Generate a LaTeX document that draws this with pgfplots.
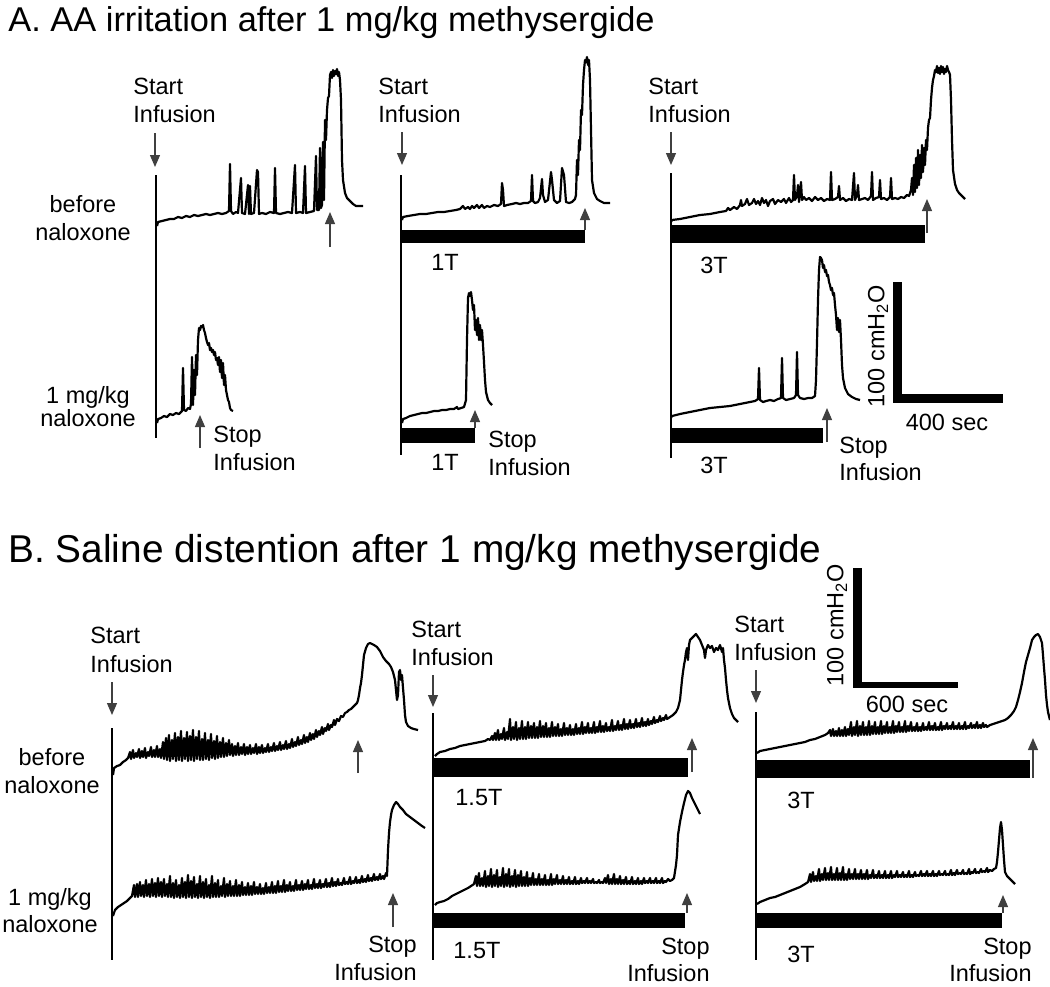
\documentclass[border=0pt]{standalone}
\usepackage{pgfplots}
\pgfplotsset{compat=1.18}
\usepackage{fontspec}
\setmainfont{Liberation Sans}
\usetikzlibrary{arrows.meta}
\tikzset{
  trace/.style={black, line width=1.1pt, line join=round, sharp plot},
  vline/.style={black, line width=1pt},
  bar/.style={fill=black, draw=none},
  arr/.style={black!75, line width=0.6pt, -{Triangle[width=5pt,length=6pt]}},
  lbl/.style={font=\fontsize{11.75}{14}\selectfont, inner sep=0pt},
}
\begin{document}
\begin{tikzpicture}
\begin{axis}[width=525pt, height=493pt, scale only axis,
  xmin=0, xmax=1050, ymin=0, ymax=986, y dir=reverse,
  axis lines=none, clip=false, no markers,
]
% invisible frame
\addplot[draw=none] coordinates {(0,0) (1050,986)};

% ---------------- Titles ----------------
\node[anchor=base west, inner sep=0pt, font=\fontsize{17.2}{20}\selectfont] at (axis cs:8,31) {A. AA irritation after 1 mg/kg methysergide};
\node[anchor=base west, inner sep=0pt, font=\fontsize{19.4}{22}\selectfont] at (axis cs:8,562) {B. Saline distention after 1 mg/kg methysergide};

% ---------------- Panel A labels ----------------
\node[lbl, anchor=base west] at (axis cs:133,94) {Start};
\node[lbl, anchor=base west] at (axis cs:133,122) {Infusion};
\node[lbl, anchor=base west] at (axis cs:378,94) {Start};
\node[lbl, anchor=base west] at (axis cs:378,122) {Infusion};
\node[lbl, anchor=base west] at (axis cs:648,94) {Start};
\node[lbl, anchor=base west] at (axis cs:648,122) {Infusion};
\node[lbl, anchor=base] at (axis cs:83,212) {before};
\node[lbl, anchor=base] at (axis cs:83,240) {naloxone};
\node[lbl, anchor=base] at (axis cs:88,403) {1 mg/kg};
\node[lbl, anchor=base] at (axis cs:88,426) {naloxone};
\node[lbl, anchor=base west] at (axis cs:213,442) {Stop};
\node[lbl, anchor=base west] at (axis cs:213,470) {Infusion};
\node[lbl, anchor=base west] at (axis cs:488,447) {Stop};
\node[lbl, anchor=base west] at (axis cs:488,475) {Infusion};
\node[lbl, anchor=base west] at (axis cs:839,453) {Stop};
\node[lbl, anchor=base west] at (axis cs:839,480) {Infusion};
\node[lbl, anchor=base] at (axis cs:445,270) {1T};
\node[lbl, anchor=base] at (axis cs:445,470) {1T};
\node[lbl, anchor=base] at (axis cs:714,273) {3T};
\node[lbl, anchor=base] at (axis cs:714,473) {3T};
\node[lbl, anchor=base] at (axis cs:947,430) {400 sec};
\node[lbl, rotate=90, anchor=center] at (axis cs:878,346) {100 cmH\textsubscript{2}O};

% ---------------- Panel B labels ----------------
\node[lbl, anchor=base west] at (axis cs:90,643) {Start};
\node[lbl, anchor=base west] at (axis cs:90,672) {Infusion};
\node[lbl, anchor=base west] at (axis cs:411,637) {Start};
\node[lbl, anchor=base west] at (axis cs:411,665) {Infusion};
\node[lbl, anchor=base west] at (axis cs:734,632) {Start};
\node[lbl, anchor=base west] at (axis cs:734,660) {Infusion};
\node[lbl, anchor=base] at (axis cs:52,765) {before};
\node[lbl, anchor=base] at (axis cs:52,793) {naloxone};
\node[lbl, anchor=base] at (axis cs:50,905) {1 mg/kg};
\node[lbl, anchor=base] at (axis cs:50,932) {naloxone};
\node[lbl, anchor=base east] at (axis cs:417,952) {Stop};
\node[lbl, anchor=base east] at (axis cs:417,980) {Infusion};
\node[lbl, anchor=base east] at (axis cs:710,954) {Stop};
\node[lbl, anchor=base east] at (axis cs:710,981) {Infusion};
\node[lbl, anchor=base east] at (axis cs:1032,954) {Stop};
\node[lbl, anchor=base east] at (axis cs:1032,981) {Infusion};
\node[lbl, anchor=base west] at (axis cs:455,805) {1.5T};
\node[lbl, anchor=base west] at (axis cs:453,958) {1.5T};
\node[lbl, anchor=base west] at (axis cs:787,808) {3T};
\node[lbl, anchor=base west] at (axis cs:787,962) {3T};
\node[lbl, anchor=base] at (axis cs:907,712) {600 sec};
\node[lbl, rotate=90, anchor=center] at (axis cs:837,625) {100 cmH\textsubscript{2}O};

% ---------------- vertical lines ----------------
\addplot[vline] coordinates {(156,175) (156,438)};
\addplot[vline] coordinates {(401,175) (401,455)};
\addplot[vline] coordinates {(671,173) (671,458)};
\addplot[vline] coordinates {(112,728) (112,960)};
\addplot[vline] coordinates {(433,713) (433,960)};
\addplot[vline] coordinates {(756,712) (756,960)};

% ---------------- infusion bars ----------------
\addplot[bar] coordinates {(401,230) (585,230) (585,243) (401,243)} -- cycle;
\addplot[bar] coordinates {(401,428) (475,428) (475,443) (401,443)} -- cycle;
\addplot[bar] coordinates {(671,225) (925,225) (925,243) (671,243)} -- cycle;
\addplot[bar] coordinates {(671,428) (823,428) (823,443) (671,443)} -- cycle;
\addplot[bar] coordinates {(433,758) (688,758) (688,777) (433,777)} -- cycle;
\addplot[bar] coordinates {(433,913) (685,913) (685,928) (433,928)} -- cycle;
\addplot[bar] coordinates {(757,760) (1030,760) (1030,778) (757,778)} -- cycle;
\addplot[bar] coordinates {(757,913) (1002,913) (1002,928) (757,928)} -- cycle;

% ---------------- scale bars ----------------
\addplot[bar] coordinates {(893,282) (902,282) (902,403) (893,403)} -- cycle;
\addplot[bar] coordinates {(893,394) (1003,394) (1003,403) (893,403)} -- cycle;
\addplot[bar] coordinates {(853,568) (862,568) (862,688) (853,688)} -- cycle;
\addplot[bar] coordinates {(853,682) (958,682) (958,688) (853,688)} -- cycle;

% ---------------- arrows ----------------
\addplot[arr] coordinates {(155,133) (155,167)};
\addplot[arr] coordinates {(402,132) (402,165)};
\addplot[arr] coordinates {(671,132) (671,165)};
\addplot[arr] coordinates {(112,682) (112,715)};
\addplot[arr] coordinates {(433,675) (433,707)};
\addplot[arr] coordinates {(756,670) (756,703)};
\addplot[arr] coordinates {(330,247) (330,212)};
\addplot[arr] coordinates {(200,448) (200,415)};
\addplot[arr] coordinates {(585,230) (585,208)};
\addplot[arr] coordinates {(475,428) (475,410)};
\addplot[arr] coordinates {(927,233) (927,199)};
\addplot[arr] coordinates {(827,442) (827,408)};
\addplot[arr] coordinates {(358,773) (358,740)};
\addplot[arr] coordinates {(393,927) (393,893)};
\addplot[arr] coordinates {(692,772) (692,738)};
\addplot[arr] coordinates {(687,913) (687,893)};
\addplot[arr] coordinates {(1033,778) (1033,738)};
\addplot[arr] coordinates {(1003,913) (1003,895)};

% ---------------- Panel A traces ----------------
% A1 before naloxone
\addplot[trace] coordinates {
(157,226) (158,222) (162,221) (166,220) (170,219) (174,219) (178,217) (182,218) (186,216) (190,217) (194,215) (198,216) (202,215) (206,214) (210,215) (214,214) (218,213) (222,214) (226,213) (229,211) (230,164) (231,211) (233,214) (236,212) (238,213) (241,178) (242,213) (245,214) (248,185) (249,214) (250,186) (251,214) (254,213) (257,170) (258,172) (259,214) (262,213) (266,214) (270,212) (274,213) (275,168) (276,213) (280,214) (284,213) (288,212) (292,213) (295,165) (296,213) (300,212) (303,213) (305,166) (306,213) (310,212) (314,211) (316,156) (317,210) (319,210) (320,148) (321,208) (322,205) (323,142) (324,200) (325,120) (326,140) (327,110) (328,98) (329,96) (330,75) (331,72) (332,78) (333,70) (334,76) (335,71) (336,74) (337,69) (338,76) (339,72) (340,80) (341,100) (342,160) (343,180) (345,193) (347,198) (350,201) (353,204) (356,206) (359,206) (363,206)
};
% A1 naloxone
\addplot[trace] coordinates {
(157,423) (158,419) (161,418) (164,416) (167,417) (170,414) (173,415) (176,413) (179,414) (182,411) (183,368) (184,410) (186,411) (188,408) (190,409) (191,404) (192,357) (193,405) (194,370) (195,395) (196,355) (197,375) (198,340) (199,328) (200,330) (201,326) (202,327) (203,325) (204,330) (205,333) (206,338) (207,342) (208,345) (209,343) (210,350) (211,348) (212,352) (213,350) (214,355) (215,352) (216,360) (217,358) (218,365) (219,357) (220,372) (221,360) (222,378) (223,363) (224,385) (225,375) (226,390) (227,395) (228,400) (229,402) (230,408) (231,410) (233,411)
};
% A2 before naloxone
\addplot[trace] coordinates {
(402,220) (403,217) (408,216) (414,215) (420,214) (426,214) (432,213) (438,212) (444,212) (450,211) (456,210) (460,209) (463,206) (465,209) (468,207) (470,209) (472,206) (474,208) (477,205) (479,208) (482,205) (484,208) (487,206) (490,207) (494,205) (498,206) (501,204) (502,183) (503,190) (504,206) (507,205) (512,204) (516,203) (520,204) (524,203) (528,203) (531,201) (532,175) (533,201) (535,203) (538,202) (540,198) (542,179) (543,195) (545,202) (548,200) (551,172) (552,180) (554,200) (557,203) (560,201) (562,168) (564,175) (566,202) (569,203) (572,202) (575,199) (576,195) (577,160) (578,175) (579,140) (580,150) (581,110) (582,115) (583,85) (584,70) (585,60) (586,62) (587,57) (588,65) (589,60) (590,80) (591,130) (592,180) (594,193) (597,199) (600,201) (604,203) (608,203) (610,203)
};
% A2 naloxone
\addplot[trace] coordinates {
(402,423) (403,419) (406,418) (410,416) (414,415) (418,414) (422,413) (426,413) (430,412) (434,411) (438,411) (442,410) (446,410) (450,409) (454,409) (457,407) (458,409) (461,408) (464,407) (466,400) (467,340) (468,298) (469,293) (470,296) (471,292) (472,300) (473,310) (474,305) (475,330) (476,320) (477,335) (478,318) (479,340) (480,325) (481,340) (482,330) (483,345) (484,362) (485,380) (486,392) (488,400) (490,403) (492,405)
};
% A3 before naloxone
\addplot[trace] coordinates {
(671,222) (672,220) (680,219) (690,217) (700,215) (710,214) (720,212) (726,211) (728,208) (730,210) (734,207) (737,209) (740,205) (741,200) (742,206) (745,204) (747,199) (749,205) (752,203) (754,199) (756,204) (758,201) (760,205) (762,198) (764,203) (766,200) (768,206) (770,201) (773,199) (775,204) (778,200) (781,202) (784,199) (786,203) (789,198) (791,202) (793,200) (794,175) (795,200) (797,196) (798,185) (799,202) (801,182) (802,200) (804,197) (806,200) (809,198) (812,201) (815,197) (818,200) (821,198) (824,201) (827,199) (830,200) (831,172) (832,200) (835,199) (838,197) (839,186) (840,200) (843,198) (846,201) (849,199) (852,200) (854,173) (855,200) (857,195) (858,185) (859,200) (862,199) (865,198) (868,200) (871,196) (872,172) (873,200) (876,198) (879,197) (880,180) (881,199) (884,198) (887,200) (890,197) (891,178) (892,199) (895,198) (898,199) (901,197) (904,198) (907,195) (909,196) (911,190) (912,178) (913,195) (914,165) (915,192) (916,158) (917,188) (918,150) (919,185) (920,155) (921,178) (922,145) (923,172) (924,148) (925,165) (926,140) (927,150) (928,128) (929,120) (930,118) (931,100) (932,88) (933,80) (934,76) (935,70) (936,72) (937,66) (938,73) (939,68) (940,74) (941,66) (942,72) (943,67) (944,74) (945,69) (946,72) (947,66) (948,70) (949,72) (950,75) (951,100) (952,140) (953,170) (955,184) (957,190) (959,193) (962,196) (965,199)
};
% A3 naloxone
\addplot[trace] coordinates {
(671,418) (672,416) (680,414) (690,412) (700,410) (710,408) (720,407) (730,406) (740,404) (745,403) (750,402) (755,401) (758,399) (759,368) (760,400) (763,402) (766,401) (770,400) (774,401) (778,399) (781,398) (782,358) (783,398) (786,400) (790,399) (794,398) (796,395) (797,352) (798,395) (800,398) (804,399) (808,398) (812,398) (815,396) (816,380) (817,343) (818,300) (819,270) (820,257) (821,258) (822,260) (823,268) (824,265) (825,272) (826,270) (827,276) (828,275) (829,282) (830,285) (831,290) (832,288) (833,295) (834,293) (835,305) (836,315) (837,330) (838,318) (839,332) (840,320) (841,340) (842,365) (843,378) (845,388) (848,394) (852,397) (856,399) (860,400)
};

% ---------------- Panel B traces ----------------
% B1 before naloxone
\addplot[trace] coordinates {
(113,775) (114,768) (117,766) (120,765) (123,762) (126,760) (128,758) (130,752) (131,759) (133,750) (134,758) (136,753) (137,757) (139,749) (140,758) (142,751) (143,757) (145,748) (146,758) (148,752) (149,756) (151,747) (152,757) (154,750) (155,757) (157,746) (158,757) (160,749) (161,758) (163,742)
(164,759) (166,738) (167,760) (169,735) (170,761) (172,740) (173,759) (175,733) (176,761) (178,737) (179,760) (181,731) (182,761) (184,738) (185,759) (187,732) (188,761) (190,736) (191,760) (193,730) (194,761) (196,737) (197,759) (199,731) (200,760) (202,739) (203,760) (205,733) (206,759) (208,740) (209,760) (211,734) (212,758) (214,741) (215,759) (217,736) (218,758) (220,742) (221,757) (223,738) (224,757) (226,743) (227,756) (229,740) (230,755)
(232,744) (233,756) (235,746) (236,755) (238,743) (239,755) (241,747) (242,754) (244,744) (245,755) (247,747) (248,754) (250,745) (251,754) (253,748) (254,753) (256,744) (257,754) (259,747) (260,753) (262,745) (263,753) (265,748) (266,752) (268,744) (269,752) (271,747) (272,751) (274,743) (275,751) (277,746) (278,750) (280,742) (281,750) (283,745) (284,749) (286,741) (287,749) (289,744) (290,748) (292,739) (293,747) (295,742) (296,746) (298,737) (299,745) (301,740) (302,744) (304,735) (305,743) (307,737) (308,742) (310,733) (311,740) (313,734) (314,739) (316,730) (317,737) (319,731) (320,735) (322,727) (323,734) (325,728) (326,731) (328,724) (329,730) (331,725) (332,727) (334,720) (335,725) (337,719) (339,721) (341,716) (343,717) (345,713) (347,712) (349,710) (351,709) (353,707) (355,705)
(357,703) (358,700) (359,695) (360,688) (361,683) (362,675) (363,665) (364,655) (366,648) (368,644) (370,643) (372,644) (374,645) (377,647) (380,651) (383,657) (386,661) (389,664) (391,667) (393,672) (394,676) (395,680) (396,690) (397,700) (398,695) (399,672) (400,670) (401,680) (402,675) (403,688) (404,700) (405,715) (406,722) (408,726) (411,728) (414,729) (418,730)
};
% B1 naloxone
\addplot[trace] coordinates {
(113,916) (115,910) (118,907) (121,905) (124,903) (127,901) (130,898) (132,896)
(134,885) (135,897) (137,884) (138,897) (140,882) (141,896) (143,885) (144,897) (146,880) (147,896) (149,884) (150,897) (152,879) (153,896) (155,883) (156,897) (158,878) (159,896) (161,882) (162,897) (164,879) (165,896) (167,884) (168,897) (170,876) (171,897) (173,883) (174,898) (176,880) (177,897) (179,885) (180,898) (182,878) (183,897) (185,882) (186,898) (188,875) (189,897) (191,881) (192,898) (194,877) (195,897) (197,884) (198,898) (200,876) (201,897) (203,882) (204,898) (206,879) (207,897) (209,885) (210,898) (212,876) (213,897) (215,883) (216,897) (218,880) (219,897) (221,886) (222,896) (224,878) (225,897) (227,884) (228,896) (230,881) (231,896) (233,886) (234,896) (236,880) (237,896) (239,885) (240,896) (242,882) (243,895) (245,887) (246,895) (248,883) (249,895) (251,886) (252,895) (254,882) (255,894) (257,887) (258,894) (260,884) (261,894) (263,888) (264,894) (266,883) (267,893) (269,887) (270,893) (272,882) (273,893) (275,886) (276,893) (278,881) (279,892) (281,886) (282,892) (284,880) (285,892) (287,885) (288,891) (290,882) (291,891) (293,886) (294,891) (296,880) (297,890) (299,885) (300,890) (302,881) (303,890) (305,884) (306,889) (308,880) (309,889) (311,885) (312,889) (314,879) (315,888) (317,884) (318,888) (320,880) (321,888) (323,884) (324,887) (326,879) (327,887) (329,883) (330,887) (332,878) (333,886) (335,882) (336,886) (338,879) (339,885) (341,883) (342,885) (344,878) (345,884) (347,882) (348,884) (350,877) (351,884) (353,881) (354,883) (356,877) (357,883) (359,880) (360,883) (362,876) (363,882) (365,879) (366,882) (368,875) (369,881) (371,878) (372,881) (374,874) (375,880) (377,877) (378,880) (380,874) (381,879) (383,876) (384,879) (386,873) (387,876)
(388,850) (389,833) (390,822) (391,815) (392,810) (394,805) (396,802) (398,804) (400,807) (403,810) (406,814) (410,817) (414,820) (418,823) (422,826) (425,828)
};
% B2 before naloxone
\addplot[trace] coordinates {
(435,756) (437,754) (440,752) (445,751) (450,749) (455,748) (460,746) (465,745) (470,744) (475,743) (480,742) (485,741) (488,739) (490,740)
(492,736) (493,740) (495,733) (496,740) (498,730) (499,740) (501,734) (502,739) (504,728) (505,740) (507,732) (508,739) (510,719) (511,740) (513,727) (514,739) (516,722) (517,740) (519,728) (520,739) (522,721) (523,739) (525,727) (526,739) (528,722) (529,738) (531,726) (532,738) (534,723) (535,738) (537,727) (538,738) (540,721) (541,737) (543,726) (544,737) (546,723) (547,737) (549,728) (550,737) (552,722) (553,736) (555,727) (556,736) (558,724) (559,736) (561,729) (562,736) (564,723) (565,735) (567,728) (568,735) (570,725) (571,735) (573,729) (574,735) (576,724) (577,734) (579,728) (580,734) (582,722) (583,734) (585,727) (586,733) (588,723) (589,733) (591,728) (592,733) (594,722) (595,733) (597,727) (598,732) (600,721) (601,732) (603,726) (604,732) (606,723) (607,731) (609,727) (610,731) (612,720) (613,731) (615,726) (616,730) (618,721) (619,730) (621,725) (622,730) (624,719) (625,729) (627,724) (628,729) (630,720) (631,728) (633,724) (634,728) (636,719) (637,727) (639,723) (640,727) (642,718) (643,726) (645,722) (646,726) (648,719) (649,725) (651,721) (652,724) (654,717) (655,723) (657,720) (658,722) (660,716) (661,721) (663,718) (664,720) (666,715) (667,719)
(670,717) (673,715) (676,712) (678,708) (680,700) (681,690) (682,680) (683,672) (684,665) (685,660) (686,652) (687,648) (688,660) (689,645) (690,640) (692,638) (694,636) (696,634) (698,637) (700,640) (702,645) (704,650) (705,658) (706,650) (708,645) (710,648) (712,646) (714,652) (716,648) (718,650) (720,645) (722,652) (723,648) (724,660) (725,668) (726,680) (727,690) (728,698) (730,708) (732,714) (734,718) (736,720) (738,722)
};
% B2 naloxone
\addplot[trace] coordinates {
(435,905) (437,903) (440,902) (444,901) (448,899) (452,896) (456,894) (460,892) (464,890) (468,888) (471,886) (474,884)
(476,876) (477,886) (479,873) (480,886) (482,878) (483,886) (485,871) (486,887) (488,876) (489,886) (491,869) (492,887) (494,875) (495,886) (497,870) (498,887) (500,877) (501,886) (503,868) (504,887) (506,874) (507,886) (509,869) (510,887) (512,876) (513,886) (515,870) (516,887) (518,875) (519,886) (521,871) (522,886) (524,877) (525,886) (527,872) (528,886) (530,878) (531,885) (533,873) (534,885) (536,879) (537,885) (539,874) (540,885) (542,879) (543,885) (545,875) (546,885) (548,880) (549,885) (551,874) (552,885) (554,879) (555,884) (557,875) (558,884) (560,880) (561,884) (563,876) (564,884) (566,880) (567,884) (569,877) (570,884) (572,881) (573,884) (575,877) (576,884) (578,881) (579,884) (581,878) (582,883) (584,881) (585,883) (587,878) (588,883) (590,881) (591,883) (593,879) (594,883) (596,882) (597,883) (599,880) (600,883) (602,882) (603,883) (605,878) (606,883) (608,875) (609,884) (611,879) (612,884) (614,874) (615,884) (617,879) (618,884) (620,876) (621,884) (623,880) (624,884) (626,877) (627,884) (629,881) (630,884) (632,877) (633,884) (635,881) (636,884) (638,878) (639,884) (641,881) (642,884) (644,878) (645,883) (647,881) (648,883) (650,878) (651,883) (653,881) (654,883) (656,878) (657,883) (659,881) (660,883) (662,878) (663,883) (665,881) (666,882) (668,879) (670,881) (672,880)
(674,878) (676,865) (677,855) (678,835) (680,822) (682,812) (684,803) (686,795) (688,791) (690,793) (692,798) (694,802) (696,806) (698,810) (700,814)
};
% B3 before naloxone
\addplot[trace] coordinates {
(757,753) (760,751) (765,750) (770,749) (775,748) (780,747) (785,746) (790,745) (795,744) (800,743) (805,742) (810,740) (815,739) (820,737) (825,735) (828,733)
(830,730) (831,736) (833,729) (834,736) (836,731) (837,736) (839,728) (840,736) (842,730) (843,736) (845,727) (846,736) (848,729) (849,735) (851,722) (852,736) (854,727) (855,735) (857,721) (858,736) (860,726) (861,735) (863,722) (864,735) (866,727) (867,735) (869,721) (870,735) (872,726) (873,734) (875,722) (876,734) (878,727) (879,734) (881,721) (882,734) (884,726) (885,733) (887,722) (888,733) (890,727) (891,733) (893,721) (894,733) (896,726) (897,732) (899,722) (900,732) (902,727) (903,732) (905,721) (906,732) (908,726) (909,731) (911,722) (912,731) (914,727) (915,731) (917,723) (918,731) (920,727) (921,731) (923,723) (924,730) (926,727) (927,730) (929,722) (930,730) (932,726) (933,730) (935,723) (936,730) (938,727) (939,730) (941,722) (942,730) (944,726) (945,729) (947,723) (948,729) (950,726) (951,729) (953,722) (954,729) (956,726) (957,729) (959,723) (960,729) (962,726) (963,729) (965,722) (966,729) (968,726) (969,728) (971,723) (972,728) (974,725) (975,728) (977,722) (978,728) (980,725) (981,728) (983,723) (984,727) (986,725) (987,727)
(990,725) (993,724) (996,723) (999,722) (1002,721) (1005,720) (1008,718) (1011,715) (1014,711) (1016,707) (1018,700) (1020,692) (1022,683) (1024,672) (1026,662) (1028,655) (1030,648) (1032,640) (1034,637) (1036,635) (1038,634) (1040,637) (1042,643) (1043,655) (1044,668) (1045,680) (1046,695) (1047,705) (1048,712) (1050,720)
};
% B3 naloxone
\addplot[trace] coordinates {
(757,904) (760,902) (765,900) (770,898) (775,897) (780,895) (785,893) (790,891) (795,889) (800,887) (805,884) (808,882)
(810,874) (811,882) (813,872) (814,881) (816,876) (817,881) (819,869) (820,881) (822,874) (823,880) (825,868) (826,880) (828,873) (829,880) (831,867) (832,880) (834,874) (835,880) (837,868) (838,880) (840,873) (841,880) (843,867) (844,880) (846,874) (847,880) (849,869) (850,879) (852,874) (853,879) (855,869) (856,879) (858,874) (859,879) (861,870) (862,879) (864,874) (865,879) (867,870) (868,879) (870,875) (871,878) (873,870) (874,878) (876,875) (877,878) (879,871) (880,878) (882,875) (883,878) (885,871) (886,878) (888,875) (889,878) (891,871) (892,878) (894,875) (895,877) (897,871) (898,877) (900,875) (901,877) (903,872) (904,877) (906,875) (907,877) (909,871) (910,877) (912,875) (913,877) (915,872) (916,876) (918,875) (919,876) (921,871) (922,876) (924,874) (925,876) (927,871) (928,876) (930,874) (931,876) (933,871) (934,876) (936,874) (937,876) (939,871) (940,875) (942,874) (943,875) (945,871) (946,875) (948,874) (949,875) (951,870) (952,875) (954,873) (955,875) (957,870) (958,874) (960,873) (961,874) (963,870) (964,874) (966,873) (967,874) (969,869) (970,874) (972,872) (973,873) (975,869) (976,873) (978,872) (979,873) (981,869) (982,872) (984,871) (985,872) (987,868) (988,872) (990,870) (992,871) (994,869) (996,868)
(997,862) (998,852) (999,840) (1000,828) (1001,822) (1002,830) (1003,845) (1004,860) (1005,872) (1007,876) (1010,879) (1013,882) (1015,884)
};
\end{axis}
\pgfresetboundingbox
\path (current axis.south west) rectangle (current axis.north east);
\end{tikzpicture}
\end{document}
